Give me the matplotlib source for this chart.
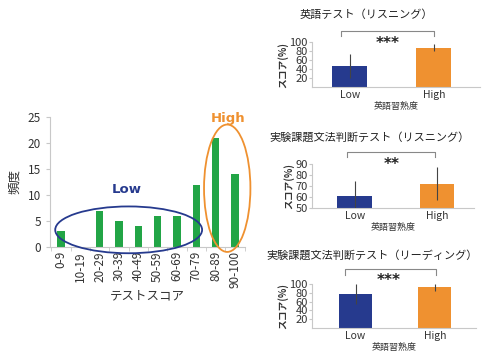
import matplotlib
matplotlib.use("Agg")
import matplotlib.pyplot as plt
from matplotlib.patches import Ellipse

plt.rcParams['font.family'] = ['Noto Sans CJK JP', 'DejaVu Sans']

# Histogram of test scores
score_bins = ['0-9', '10-19', '20-29', '30-39', '40-49', '50-59',
              '60-69', '70-79', '80-89', '90-100']
freq = [3, 0, 7, 5, 4, 6, 6, 12, 21, 14]

# Group comparisons (mean, sd)
groups = ['Low', 'High']
titles = ['英語テスト（リスニング）',
          '実験課題文法判断テスト（リスニング）',
          '実験課題文法判断テスト（リーディング）']
means = [[47, 87], [61, 72], [77, 93]]
sds = [[26, 8], [14, 15], [23, 8]]
stars = ['***', '**', '***']

W, H = 483, 356
BLUE = '#263a8e'
ORANGE = '#ef9130'
GREEN = '#22a546'
AXIS = '#c8c8c8'

fig = plt.figure(figsize=(W / 100, H / 100), dpi=100)


def box(x0, y0, x1, y1):
    return fig.add_axes([x0 / W, 1 - y1 / H, (x1 - x0) / W, (y1 - y0) / H])


# ---- left: histogram ----
ax = box(50, 117, 245, 247)
x = list(range(len(score_bins)))
ax.bar(x, freq, width=0.38, color=GREEN, zorder=2)
ax.set_xlim(-0.57, 9.52)
ax.set_ylim(0, 25)
ax.set_yticks([0, 5, 10, 15, 20, 25])
ax.set_xticks(x)
ax.set_xticklabels(score_bins, rotation=90, fontsize=8.5, color='#333333')
ax.tick_params(axis='y', labelsize=8.5, colors='#333333', length=3, color=AXIS)
ax.tick_params(axis='x', length=0, pad=3)
ax.set_xticks([i + 0.5 for i in range(-1, len(score_bins))], minor=True)
ax.tick_params(axis='x', which='minor', length=3, color=AXIS)
for s in ['top', 'right']:
    ax.spines[s].set_visible(False)
for s in ['left', 'bottom']:
    ax.spines[s].set_color(AXIS)
ax.set_xlabel('テストスコア', fontsize=9, color='#333333', labelpad=1)
ax.set_ylabel('頻度', fontsize=9, color='#333333', labelpad=5)

ax.add_patch(Ellipse((3.5, 3.3), width=7.6, height=9.0, fill=False,
                     edgecolor=BLUE, lw=1.3, clip_on=False, zorder=3))
ax.add_patch(Ellipse((8.6, 11.3), width=2.4, height=24.5, fill=False,
                     edgecolor=ORANGE, lw=1.3, clip_on=False, zorder=3))
ax.text(3.4, 11.0, 'Low', color=BLUE, fontsize=9.5, fontweight='bold',
        ha='center', va='center', family=['DejaVu Sans'])
ax.text(8.65, 24.8, 'High', color=ORANGE, fontsize=9.5, fontweight='bold',
        ha='center', va='center', family=['DejaVu Sans'])

# ---- right: group comparisons ----
panels = [
    dict(box=(312, 42, 480, 87), xlim=(-0.45, 1.55), ylim=(0, 100),
         yticks=[20, 40, 60, 80, 100], title=(366, 15), br_y=(114, 124),
         br_x=(-0.1, 1.0), star=(0.45, 96)),
    dict(box=(312, 164, 474, 208), xlim=(-0.52, 1.45), ylim=(50, 90),
         yticks=[50, 60, 70, 80, 90], title=(370, 137), br_y=(96, 101),
         br_x=(-0.1, 0.98), star=(0.45, 90)),
    dict(box=(312, 284, 476, 328), xlim=(-0.55, 1.52), ylim=(0, 100),
         yticks=[20, 40, 60, 80, 100], title=(372, 255), br_y=(120, 134),
         br_x=(-0.13, 1.01), star=(0.42, 107)),
]

for i, p in enumerate(panels):
    a = box(*p['box'])
    m = means[i]
    e = sds[i]
    a.bar([0, 1], m, width=0.42, color=[BLUE, ORANGE], zorder=2)
    a.errorbar([0, 1], m, yerr=e, fmt='none', ecolor='#444444',
               elinewidth=0.8, capsize=0, zorder=3)
    a.set_xlim(*p['xlim'])
    a.set_ylim(*p['ylim'])
    a.set_yticks(p['yticks'])
    a.set_xticks([0, 1])
    a.set_xticklabels(groups, fontsize=7.5, color='#333333')
    a.tick_params(axis='y', labelsize=8, colors='#333333', length=2,
                  color=AXIS, pad=1)
    a.tick_params(axis='x', length=0, pad=2.5)
    for s in ['top', 'right']:
        a.spines[s].set_visible(False)
    for s in ['left', 'bottom']:
        a.spines[s].set_color(AXIS)
    a.set_xlabel('英語習熟度', fontsize=6.5, color='#333333', labelpad=1)
    a.set_ylabel('スコア(%)', fontsize=7, fontweight='bold',
                 color='#333333', labelpad=1)
    # significance bracket
    x0, x1 = p['br_x']
    yb, yt = p['br_y']
    a.plot([x0, x0, x1, x1], [yb, yt, yt, yb], color='#888888', lw=0.8,
           clip_on=False)
    a.text(p['star'][0], p['star'][1], stars[i], fontsize=11,
           fontweight='bold', ha='center', va='center',
           family=['DejaVu Sans'], color='#222222')
    tx, ty = p['title']
    fig.text(tx / W, 1 - ty / H, titles[i], fontsize=8, ha='center',
             va='center', color='#222222')

fig.savefig('out.png', dpi=100, facecolor='white')
